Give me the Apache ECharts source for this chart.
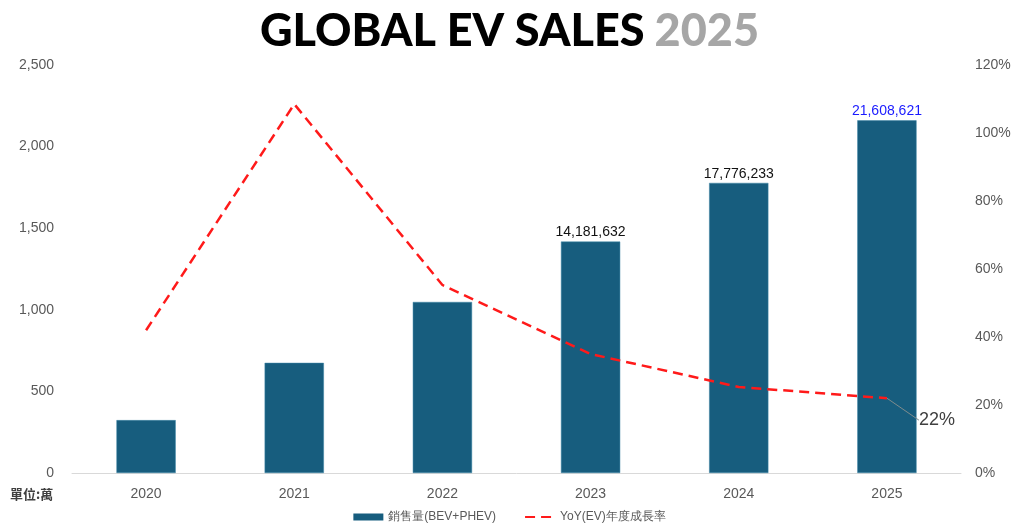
<!DOCTYPE html>
<html>
<head>
<meta charset="utf-8">
<script src="https://cdn.jsdelivr.net/npm/echarts@6/dist/echarts.min.js"></script>
<style>
  html, body { margin: 0; padding: 0; background: #fff; }
  #chart { width: 1019px; height: 531px; }
</style>
</head>
<body>
<div id="chart"></div>
<script>
var years = ['2020', '2021', '2022', '2023', '2024', '2025'];
// total sales, units
var sales = [3240000, 6750000, 10480000, 14181632, 17776233, 21608621];
// yoy growth, %
var yoy = [42, 108.5, 55.3, 35, 25.3, 22];
var labelYears = ['2023', '2024', '2025'];

var chart = echarts.init(document.getElementById('chart'));

var barData = sales.map(function (v, i) {
    var item = { value: v / 10000 };
    if (labelYears.indexOf(years[i]) >= 0) {
        item.label = {
            show: true,
            position: 'top',
            distance: 2,
            formatter: v.toLocaleString('en-US'),
            color: years[i] === '2025' ? '#1a1aff' : '#111',
            fontSize: 14
        };
    }
    return item;
});

var lastIdx = yoy.length - 1;
var lineData = yoy.map(function (v, i) {
    var item = { value: v };
    if (i === lastIdx) {
        item.label = {
            show: true,
            formatter: Math.round(v) + '%',
            position: 'right',
            distance: 2,
            fontSize: 18,
            color: '#404040'
        };
        item.labelLine = { show: true, lineStyle: { color: '#7f8c8d', width: 1 } };
    }
    return item;
});

var option = {
    animation: false,
    title: {
        text: '{a|GLOBAL EV SALES}  {b|2025}',
        left: 'center',
        top: 4,
        textStyle: {
            rich: {
                a: { fontFamily: 'Lato', fontWeight: 900, fontSize: 45, color: '#000' },
                b: { fontFamily: 'Lato', fontWeight: 900, fontSize: 45, color: '#a6a6a6' }
            }
        }
    },
    grid: {
        left: 72,
        right: 58,
        top: 65,
        bottom: 58
    },
    legend: {
        bottom: 3,
        left: 'center',
        itemGap: 28,
        itemWidth: 30,
        itemHeight: 7,
        textStyle: { color: '#595959', fontSize: 12 },
        data: [
            { name: '銷售量(BEV+PHEV)', icon: 'rect', itemStyle: { borderWidth: 0 } },
            { name: 'YoY(EV)年度成長率', itemStyle: { opacity: 0 } }
        ]
    },
    xAxis: {
        type: 'category',
        data: years,
        axisLine: { lineStyle: { color: '#d9d9d9' } },
        axisTick: { show: false },
        axisLabel: { color: '#595959', fontSize: 14, margin: 14 }
    },
    yAxis: [
        {
            type: 'value',
            min: 0,
            max: 2500,
            interval: 500,
            splitLine: { show: false },
            axisLabel: {
                color: '#595959',
                fontSize: 14,
                margin: 18,
                formatter: function (v) { return v.toLocaleString('en-US'); }
            }
        },
        {
            type: 'value',
            min: 0,
            max: 120,
            interval: 20,
            splitLine: { show: false },
            axisLabel: { color: '#595959', fontSize: 14, margin: 14, formatter: '{value}%' }
        }
    ],
    series: [
        {
            name: '銷售量(BEV+PHEV)',
            type: 'bar',
            barWidth: '40%',
            itemStyle: { color: '#175d7e', borderColor: '#3f86a6', borderWidth: 0.5 },
            data: barData
        },
        {
            name: 'YoY(EV)年度成長率',
            type: 'line',
            yAxisIndex: 1,
            symbol: 'circle',
            symbolSize: 0.1,
            lineStyle: { color: '#ff1a1a', width: 2.5, type: [10, 6] },
            itemStyle: { color: '#ff1a1a' },
            labelLayout: function (params) {
                if (params.dataIndex === lastIdx) {
                    return { dx: 30, dy: 22 };
                }
            },
            data: lineData
        }
    ],
    graphic: [
        {
            type: 'text',
            left: 10,
            top: 488,
            style: { text: '單位:萬', font: 'bold 13px "Noto Sans CJK TC"', fill: '#404040' }
        }
    ]
};

chart.setOption(option);
</script>
</body>
</html>
